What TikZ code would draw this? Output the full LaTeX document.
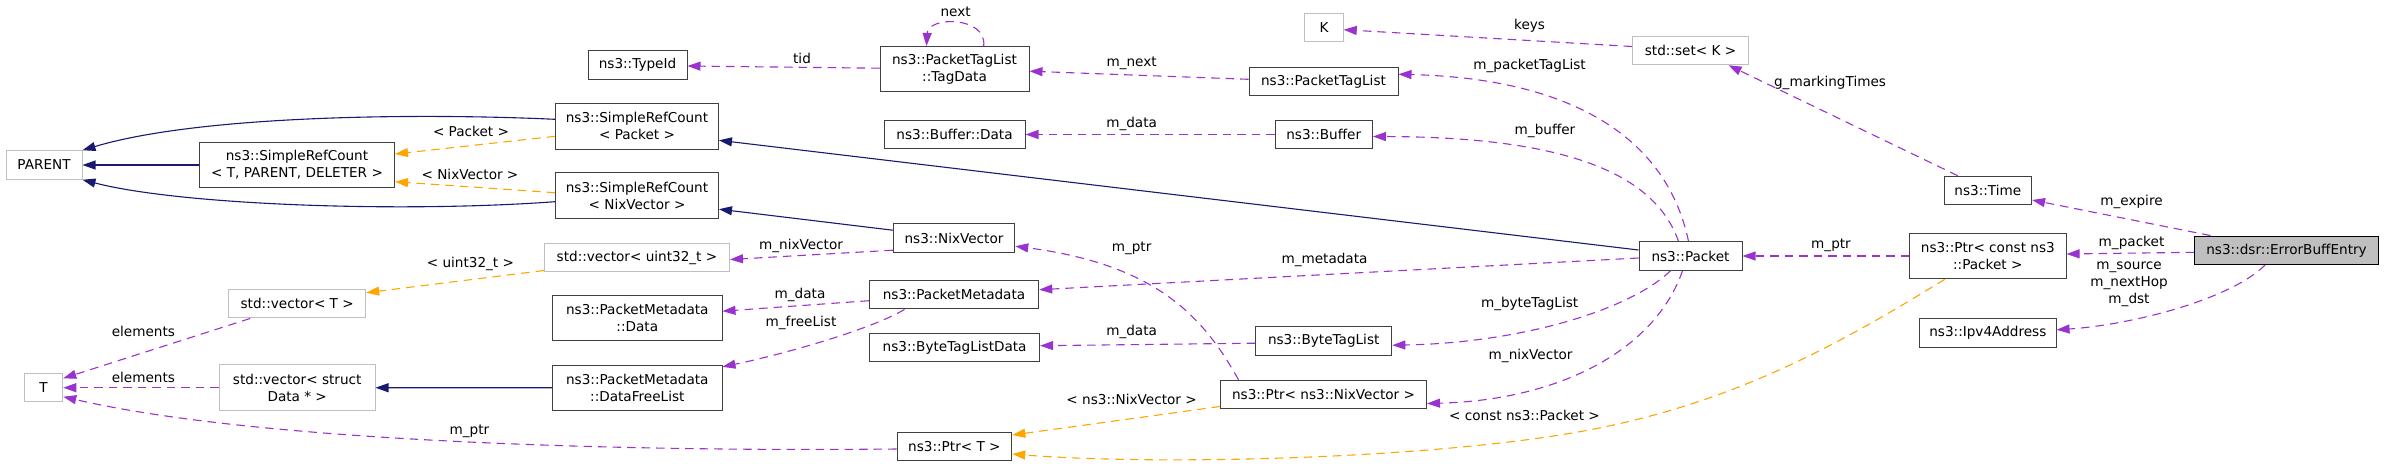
\documentclass[tikz,border=0pt]{standalone}
\usepackage{fontspec}
\setmainfont{DejaVu Sans}
\usetikzlibrary{arrows.meta}
\definecolor{erbfarbe}{HTML}{191970}
\definecolor{nutzfarbe}{HTML}{9A32CD}
\definecolor{tplfarbe}{HTML}{FFA500}
\definecolor{randfarbe}{HTML}{404040}
\definecolor{grau}{HTML}{BFBFBF}
\tikzset{
	klasse/.style={draw=randfarbe,line width=1pt,inner sep=0pt,minimum height=28.5pt,align=center},
	extern/.style={klasse,draw=grau},
	doppel/.style={minimum height=45.5pt},
	haupt/.style={klasse,draw=black,fill=grau},
	spitze/.style={-{Triangle[length=13pt,width=9pt]}},
	erbt/.style={spitze,draw=erbfarbe,line width=1.1pt},
	nutzt/.style={spitze,draw=nutzfarbe,line width=1.1pt,dash pattern=on 8.5pt off 6pt},
	vorlage/.style={nutzt,draw=tplfarbe},
	lbl/.style={inner sep=0pt}
}
\begin{document}
\begin{tikzpicture}[x=1pt,y=-1pt,font=\fontsize{13.6}{17}\selectfont]
		\useasboundingbox (0,0) rectangle (2384,467);
		%%%% Klassen links
		\node[extern,minimum width=76pt] (parent) at (44,165) {PARENT};
		\node[klasse,doppel,minimum width=195pt] (srctpd) at (297,165) {ns3::SimpleRefCount\\< T, PARENT, DELETER >};
		\node[klasse,doppel,minimum width=163pt] (srcpkt) at (637,126.3) {ns3::SimpleRefCount\\< Packet >};
		\node[klasse,doppel,minimum width=163pt] (srcnix) at (637,195.7) {ns3::SimpleRefCount\\< NixVector >};
		\node[klasse,minimum width=99pt] (typeid) at (637.5,65) {ns3::TypeId};
		\node[extern,minimum width=185pt] (vecu32) at (637,257.5) {std::vector< uint32\_t >};
		\node[extern,minimum width=137pt] (vect) at (297.2,303.7) {std::vector< T >};
		\node[klasse,doppel,minimum width=169.4pt] (pmdata) at (637.3,318.2) {ns3::PacketMetadata\\::Data};
		\node[klasse,doppel,minimum width=169.4pt] (pmfree) at (637.3,387.8) {ns3::PacketMetadata\\::DataFreeList};
		\node[extern,doppel,minimum width=155.6pt] (vecstruct) at (297.2,387.7) {std::vector< struct\\Data * >};
		\node[extern,minimum width=38.3pt] (tnode) at (43.6,387.7) {T};
		%%%% Klassen Mitte
		\node[klasse,doppel,minimum width=149pt] (tagdata) at (954.5,69.2) {ns3::PacketTagList\\::TagData};
		\node[klasse,minimum width=141pt] (bufdata) at (954.5,134.5) {ns3::Buffer::Data};
		\node[klasse,minimum width=121.5pt] (nixvec) at (954,238.2) {ns3::NixVector};
		\node[klasse,minimum width=169.4pt] (pktmeta) at (954,294.7) {ns3::PacketMetadata};
		\node[klasse,minimum width=170pt] (btldata) at (954.6,347.7) {ns3::ByteTagListData};
		\node[klasse,minimum width=114.8pt] (ptrt) at (954.4,446.5) {ns3::Ptr< T >};
		\node[extern,minimum width=38.4pt] (knode) at (1324,27.7) {K};
		\node[klasse,minimum width=149pt] (ptaglist) at (1323.5,81.3) {ns3::PacketTagList};
		\node[klasse,minimum width=97.4pt] (buffer) at (1323.7,134.5) {ns3::Buffer};
		\node[klasse,minimum width=136.2pt] (btl) at (1323.7,341.2) {ns3::ByteTagList};
		\node[klasse,minimum width=206pt] (ptrnix) at (1323.5,394.5) {ns3::Ptr< ns3::NixVector >};
		%%%% Klassen rechts
		\node[klasse,minimum width=103pt] (packet) at (1690.5,256) {ns3::Packet};
		\node[extern,minimum width=116pt] (setk) at (1690.5,50.5) {std::set< K >};
		\node[klasse,minimum width=87.5pt] (time) at (1987.8,190.5) {ns3::Time};
		\node[klasse,doppel,minimum width=156.5pt] (ptrcpkt) at (1987.8,256) {ns3::Ptr< const ns3\\::Packet >};
		\node[klasse,minimum width=136.5pt] (ipv4) at (1987.8,332.8) {ns3::Ipv4Address};
		\node[haupt,minimum width=184pt] (errbuf) at (2286.5,250.3) {ns3::dsr::ErrorBuffEntry};
		%%%% Vererbung
		\draw[erbt] ([yshift=7pt]srcpkt.west) .. controls (420,113) and (200,115) .. (parent.north east);
		\draw[erbt] (srctpd) -- (parent);
		\draw[erbt] ([yshift=-6pt]srcnix.west) .. controls (400,213) and (180,205) .. (parent.south east);
		\draw[erbt] ([yshift=6pt]packet.west) -- ([yshift=-14pt]srcpkt.east);
		\draw[erbt] ([yshift=8pt]nixvec.west) -- ([yshift=-13.5pt]srcnix.east);
		\draw[erbt] (pmfree) -- (vecstruct);
		%%%% Vorlagen
		\draw[vorlage] ([yshift=-10pt]srcpkt.west) -- ([yshift=11pt]srctpd.east);
		\draw[vorlage] ([yshift=3pt]srcnix.west) -- ([yshift=-16.7pt]srctpd.east);
		\draw[vorlage] ([yshift=-13pt]vecu32.west) -- ([yshift=11pt]vect.east);
		\draw[vorlage] ([yshift=-12pt]ptrnix.west) -- ([yshift=11.5pt]ptrt.east);
		\draw[vorlage] ([xshift=-43pt]ptrcpkt.south) .. controls (1830,350) and (1720,410) .. (1560,435)
			.. controls (1400,460) and (1150,465) .. ([yshift=-7.5pt]ptrt.east);
		%%%% Attribute
		\draw[nutzt] ([yshift=1pt]tagdata.west) -- ([yshift=-1pt]typeid.east);
		\draw[nutzt] ([xshift=29.2pt]tagdata.north) .. controls (987,16) and (928,16) .. ([xshift=-28pt]tagdata.north);
		\draw[nutzt] ([yshift=2pt]ptaglist.west) -- ([yshift=-2pt]tagdata.east);
		\draw[nutzt] (buffer.west) -- (bufdata.east);
		\draw[nutzt] ([yshift=4pt]setk.west) -- ([yshift=-2pt]knode.east);
		\draw[nutzt] ([xshift=-30pt]time.north) -- ([xshift=38pt]setk.south);
		\draw[nutzt] ([xshift=-76pt]errbuf.north) -- ([yshift=-9.5pt]time.east);
		\draw[nutzt] ([yshift=-2pt]errbuf.west) -- ([yshift=2pt]ptrcpkt.east);
		\draw[nutzt] ([xshift=-21.5pt]errbuf.south) .. controls (2230,300) and (2130,325) .. ([yshift=3pt]ipv4.east);
		\draw[nutzt] (ptrcpkt.west) -- (packet.east);
		\draw[nutzt] ([xshift=-2pt]packet.north) .. controls (1665,130) and (1560,78) .. ([yshift=7pt]ptaglist.east);
		\draw[nutzt] ([xshift=-12pt]packet.north) .. controls (1655,175) and (1570,137) .. ([yshift=-2pt]buffer.east);
		\draw[nutzt] ([yshift=-2pt]packet.west) -- ([yshift=5pt]pktmeta.east);
		\draw[nutzt] ([xshift=-20pt]packet.south) .. controls (1630,310) and (1520,343) .. ([yshift=-4pt]btl.east);
		\draw[nutzt] ([xshift=-8pt]packet.south) .. controls (1655,350) and (1560,400) .. ([yshift=-9pt]ptrnix.east);
		\draw[nutzt] ([yshift=-12pt]nixvec.west) -- ([yshift=-2pt]vecu32.east);
		\draw[nutzt] ([xshift=-85pt]ptrnix.north) .. controls (1205,320) and (1160,265) .. ([yshift=-8pt]nixvec.east);
		\draw[nutzt] ([yshift=-2pt]btl.west) -- ([yshift=2pt]btldata.east);
		\draw[nutzt] ([yshift=-6pt]pktmeta.west) -- ([yshift=7pt]pmdata.east);
		\draw[nutzt] ([xshift=-49.5pt]pktmeta.south) .. controls (870,330) and (780,355) .. ([yshift=21pt]pmfree.east);
		\draw[nutzt] ([xshift=-47pt]vect.south) -- ([yshift=9.4pt]tnode.east);
		\draw[nutzt] (vecstruct.west) -- (tnode.east);
		\draw[nutzt] ([yshift=-2.5pt]ptrt.west) .. controls (600,452) and (250,440) .. ([yshift=-9pt]tnode.east);
		%%%% Beschriftungen
		\node[lbl] (l-pkt) at (471,131) {< Packet >};
		\node[lbl] (l-nix) at (470,174) {< NixVector >};
		\node[lbl] (l-tid) at (802,58) {tid};
		\node[lbl] (l-next) at (955.6,12.3) {next};
		\node[lbl] (l-mnext) at (1131.6,63.3) {m\_next};
		\node[lbl] (l-bdata) at (1131.6,124.3) {m\_data};
		\node[lbl] (l-keys) at (1529.6,26) {keys};
		\node[lbl] (l-ptl) at (1529.6,66.3) {m\_packetTagList};
		\node[lbl] (l-buf) at (1545,131) {m\_buffer};
		\node[lbl] (l-mark) at (1830,83.3) {g\_markingTimes};
		\node[lbl] (l-exp) at (2131.5,202.3) {m\_expire};
		\node[lbl] (l-mpkt) at (2131.5,243.3) {m\_packet};
		\node[lbl] (l-pptr) at (1831,245.7) {m\_ptr};
		\node[lbl,align=center] (l-addr) at (2129,284.5) {m\_source\\m\_nextHop\\m\_dst};
		\node[lbl] (l-nixv1) at (801,246) {m\_nixVector};
		\node[lbl] (l-nptr) at (1131.6,248.3) {m\_ptr};
		\node[lbl] (l-meta) at (1324.5,260) {m\_metadata};
		\node[lbl] (l-pmd) at (800,295) {m\_data};
		\node[lbl] (l-free) at (801,323.3) {m\_freeList};
		\node[lbl] (l-btl) at (1529.6,304) {m\_byteTagList};
		\node[lbl] (l-btd) at (1131.6,331.7) {m\_data};
		\node[lbl] (l-nixv2) at (1530.6,355.7) {m\_nixVector};
		\node[lbl] (l-tnix) at (1131.6,399.3) {< ns3::NixVector >};
		\node[lbl] (l-tcp) at (1524.5,415.7) {< const ns3::Packet >};
		\node[lbl] (l-tptr) at (469.4,431.7) {m\_ptr};
		\node[lbl] (l-u32) at (470.4,264.3) {< uint32\_t >};
		\node[lbl] (l-el1) at (143.4,331.7) {elements};
		\node[lbl] (l-el2) at (143.4,377.7) {elements};
\end{tikzpicture}
\end{document}
